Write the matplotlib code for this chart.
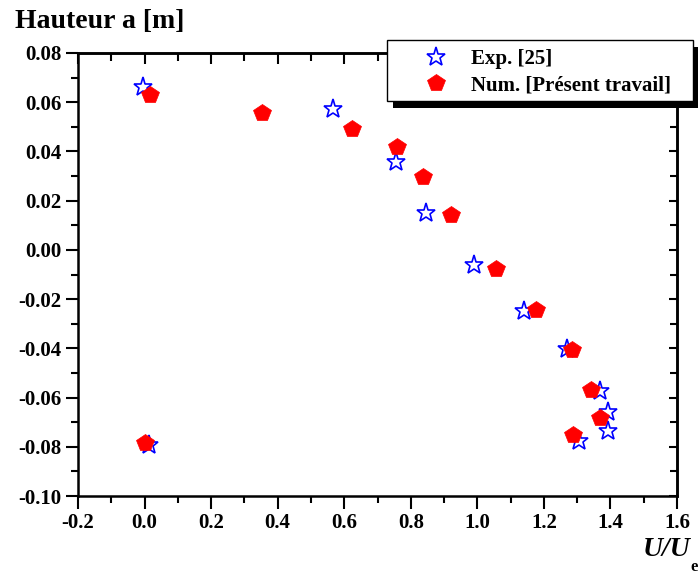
import numpy as np
import matplotlib.pyplot as plt
from matplotlib.patches import Rectangle
from matplotlib.ticker import MultipleLocator, FuncFormatter

# Exp. [25]
exp_u = [-0.006, 0.565, 0.756, 0.847, 0.989, 1.140, 1.270, 1.368, 1.392, 1.392, 1.305, 0.014]
exp_h = [0.0661, 0.0572, 0.0359, 0.0149, -0.0061, -0.0250, -0.0403, -0.0572, -0.0657, -0.0734, -0.0775, -0.0792]

# Num. [Present travail]
num_u = [0.016, 0.353, 0.624, 0.759, 0.837, 0.920, 1.057, 1.177, 1.283, 1.342, 1.368, 1.287, 0.000]
num_h = [0.0630, 0.0555, 0.0492, 0.0420, 0.0298, 0.0142, -0.0078, -0.0244, -0.0406, -0.0569, -0.0684, -0.0752, -0.0785]

W, H = 698, 575
plt.rcParams['font.family'] = ['Liberation Serif', 'DejaVu Serif']
plt.rcParams['font.weight'] = 'bold'

fig = plt.figure(figsize=(W / 100, H / 100), dpi=100)
ax = fig.add_axes([78 / W, 1 - 496 / H, (677 - 78) / W, (496 - 53) / H])

ax.plot(exp_u, exp_h, ls='none', marker='*', ms=14, mfc='white', mec='blue', mew=1.2,
        label='Exp. [25]', zorder=3)
ax.plot(num_u, num_h, ls='none', marker='p', ms=13, mfc='red', mec='red', mew=0.5,
        label='Num. [Présent travail]', zorder=3)


def fmt(nd):
    def f(v, pos):
        s = '%.*f' % (nd, v)
        return s[1:] if s.startswith('-') and float(s) == 0 else s
    return FuncFormatter(f)


ax.set_xlim(-0.2, 1.6)
ax.set_ylim(-0.10, 0.08)
ax.xaxis.set_major_locator(MultipleLocator(0.2))
ax.xaxis.set_minor_locator(MultipleLocator(0.1))
ax.yaxis.set_major_locator(MultipleLocator(0.02))
ax.yaxis.set_minor_locator(MultipleLocator(0.01))
ax.xaxis.set_major_formatter(fmt(1))
ax.yaxis.set_major_formatter(fmt(2))
ax.tick_params(which='major', direction='out', length=9, width=1.5, labelsize=15, pad=3)
ax.tick_params(which='minor', direction='out', length=5, width=1.5)
for sp in ax.spines.values():
    sp.set_linewidth(1.8)

# inward ticks on top and right
top = ax.secondary_xaxis('top')
top.xaxis.set_major_locator(MultipleLocator(0.2))
top.xaxis.set_minor_locator(MultipleLocator(0.1))
top.tick_params(which='major', direction='in', length=8, width=1.5, labeltop=False)
top.tick_params(which='minor', direction='in', length=6, width=1.5)
top.spines['top'].set_linewidth(1.8)
right = ax.secondary_yaxis('right')
right.yaxis.set_major_locator(MultipleLocator(0.02))
right.yaxis.set_minor_locator(MultipleLocator(0.01))
right.tick_params(which='major', direction='in', length=6, width=1.5, labelright=False)
right.tick_params(which='minor', direction='in', length=5, width=1.5)
right.spines['right'].set_linewidth(1.8)

fig.text(15 / W, 1 - 21 / H, 'Hauteur a [m]', fontsize=20, fontweight='bold', va='center', ha='left')
fig.text(643 / W, 1 - 556 / H, 'U/U', fontsize=20, fontweight='bold', style='italic', ha='left', va='baseline')
fig.text(690 / W, 1 - 571 / H, 'e', fontsize=12, fontweight='bold', ha='left', va='baseline')

# legend box with black offset shadow, drawn by hand
fig.patches.append(Rectangle((393 / W, 1 - 108 / H), 306 / W, 61 / H, transform=fig.transFigure,
                             facecolor='black', edgecolor='none', zorder=3))
fig.patches.append(Rectangle((387 / W, 1 - 101 / H), 306 / W, 61 / H, transform=fig.transFigure,
                             facecolor='white', edgecolor='black', linewidth=1.0, zorder=4))
leg = fig.legend(loc='upper left', bbox_to_anchor=(415 / W, 1 - 49 / H), fontsize=15,
                 frameon=False, borderpad=0, borderaxespad=0, handlelength=2.0,
                 handletextpad=0.68, labelspacing=0.3)
leg.set_zorder(5)

fig.savefig('out.png', dpi=100)
